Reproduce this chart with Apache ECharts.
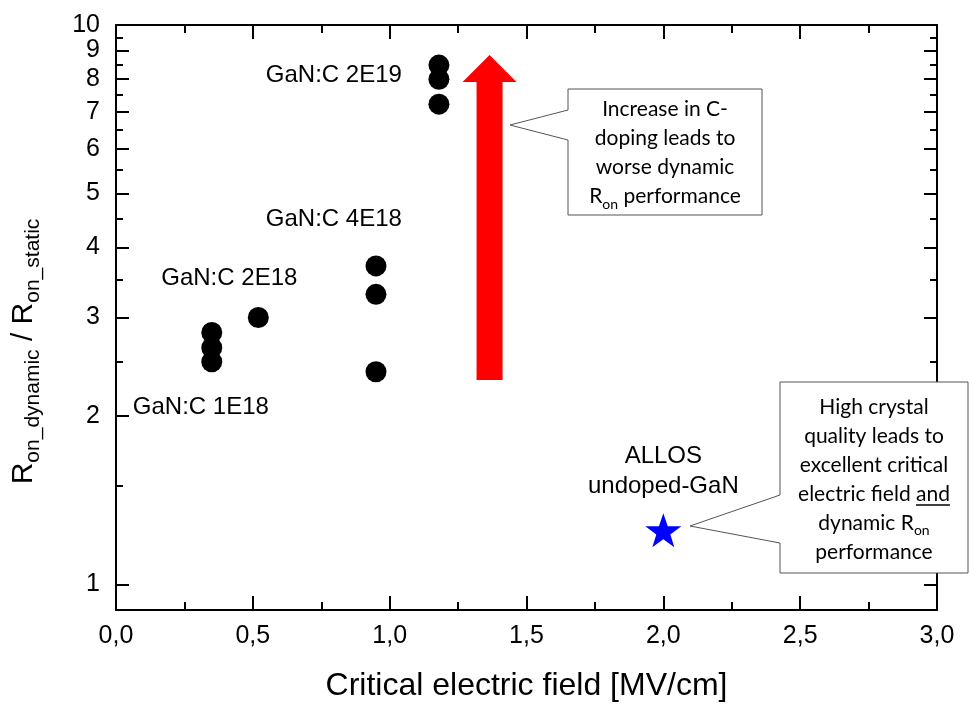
<!DOCTYPE html>
<html><head><meta charset="utf-8">
<script src="https://cdn.jsdelivr.net/npm/echarts@6/dist/echarts.min.js"></script>
<style>html,body{margin:0;padding:0;background:#fff}#c{width:969px;height:707px}</style>
</head><body><div id="c"></div>
<script>
// ---- data ----
const xMin = 0, xMax = 3.0, xStep = 0.5;
const yMajorTicks = [1, 2, 3, 4, 5, 6, 7, 8, 9, 10];
const yMinorTicks = [1.5, 2.5, 3.5, 4.5, 5.5, 6.5, 7.5, 8.5, 9.5];
const ganField = [0.35, 0.35, 0.35, 0.52, 0.95, 0.95, 0.95, 1.18, 1.18, 1.18];
const ganRatio = [2.82, 2.65, 2.50, 3.00, 3.71, 3.30, 2.40, 8.48, 8.00, 7.22];
const allosField = [2.0];
const allosRatio = [1.25];
const labelTexts = ['GaN:C 2E19', 'GaN:C 4E18', 'GaN:C 2E18', 'GaN:C 1E18', 'ALLOS\nundoped-GaN'];
const labelX = [0.796, 0.796, 0.414, 0.310, 2.0];
const labelY = [8.14, 4.49, 3.53, 2.07, 1.592];
const arrowX = 1.365, arrowFrom = 2.32, arrowTo = 8.84;
const callout1 = ['{t|Increase in C-}', '{t|doping leads to}', '{t|worse dynamic}', '{t|R}{s|on}{t| performance}'];
const callout2 = ['{t|High crystal}', '{t|quality leads to}', '{t|excellent critical}', '{t|electric field and}', '{t|dynamic R}{s|on}', '{t|performance}'];

const ARIAL = "'Liberation Sans', Arial, sans-serif";
const CAL = "Lato, 'Open Sans', sans-serif";

const chart = echarts.init(document.getElementById('c'), null, {renderer: 'canvas'});

function xAx(pos, showLabel, name) {
  return {
    type: 'value', position: pos, min: xMin, max: xMax, interval: xStep,
    axisLine: {show: true, onZero: false, lineStyle: {color: '#000', width: 2}},
    axisTick: {show: true, inside: true, length: 14, lineStyle: {color: '#000', width: 2}},
    minorTick: {show: true, splitNumber: 2, length: 8, lineStyle: {color: '#000', width: 2}},
    axisLabel: {show: showLabel, margin: 14, color: '#000', fontSize: 25, fontFamily: ARIAL,
      formatter: v => v.toFixed(1).replace('.', ',')},
    splitLine: {show: false},
    name: name || '', nameLocation: 'middle', nameGap: 60,
    nameTextStyle: {fontSize: 32, color: '#000', fontFamily: ARIAL}
  };
}
function yAx(pos, ticks, len, showLine, showLabel, name) {
  const a = {
    type: 'log', logBase: 10, min: 0.9, max: 10, position: pos,
    axisLine: {show: showLine, onZero: false, lineStyle: {color: '#000', width: 2}},
    axisTick: {show: true, inside: true, length: len, customValues: ticks, lineStyle: {color: '#000', width: 2}},
    axisLabel: {show: showLabel, margin: 16, color: '#000', fontSize: 25, fontFamily: ARIAL,
      formatter: v => String(Math.round(v))},
    splitLine: {show: false}
  };
  if (showLabel) a.axisLabel.customValues = ticks;
  if (name) {
    a.name = name; a.nameLocation = 'middle'; a.nameGap = 72;
    a.nameTextStyle = {color: '#000', padding: [0, 68, 0, 0], rich: {
      r: {fontSize: 30, fontFamily: ARIAL, color: '#000', lineHeight: 40},
      s: {fontSize: 21, fontFamily: ARIAL, color: '#000', lineHeight: 8, verticalAlign: 'bottom'}
    }};
  }
  return a;
}

const labelData = labelTexts.map((t, i) => ({name: t, value: [labelX[i], labelY[i]]}));

chart.setOption({
  animation: false,
  backgroundColor: '#fff',
  grid: {left: 116, right: 32, top: 25, bottom: 97, containLabel: false},
  xAxis: [xAx('bottom', true, 'Critical electric field [MV/cm]'), xAx('top', false)],
  yAxis: [
    yAx('left', yMajorTicks, 13, true, true, '{r|R}{s|on_dynamic}{r| / R}{s|on_static}'),
    yAx('left', yMinorTicks, 7, false, false),
    yAx('right', yMajorTicks, 13, true, false),
    yAx('right', yMinorTicks, 7, false, false)
  ],
  series: [
    {type: 'scatter', name: 'GaN:C', xAxisIndex: 0, yAxisIndex: 0, symbol: 'circle', symbolSize: 21,
      itemStyle: {color: '#000', opacity: 1}, data: ganField.map((x, i) => [x, ganRatio[i]]), z: 5},
    {type: 'scatter', name: 'ALLOS', xAxisIndex: 0, yAxisIndex: 0,
      symbol: 'path://M50,0 L61.8,35.1 L98.1,35.1 L68.8,56.8 L79.4,91 L50,70 L20.6,91 L31.2,56.8 L1.9,35.1 L38.2,35.1 Z',
      symbolSize: [36, 34], itemStyle: {color: '#0000ff', opacity: 1}, data: allosField.map((x, i) => [x, allosRatio[i]]), z: 5},
    {type: 'scatter', name: 'labels', xAxisIndex: 0, yAxisIndex: 0, symbolSize: 0, silent: true,
      itemStyle: {opacity: 1},
      label: {show: true, position: 'inside', formatter: p => p.name, color: '#000', fontSize: 24,
        fontFamily: ARIAL, lineHeight: 30, align: 'center', opacity: 1},
      data: labelData, z: 6}
  ]
});

function drawAnnotations() {
  const p0 = chart.convertToPixel({xAxisIndex: 0, yAxisIndex: 0}, [arrowX, arrowFrom]);
  const p1 = chart.convertToPixel({xAxisIndex: 0, yAxisIndex: 0}, [arrowX, arrowTo]);
  const cx = p0[0], headLen = 27, headHalf = 27, shaftHalf = 13;
  const arrowPts = [
    [cx - shaftHalf, p0[1]], [cx - shaftHalf, p1[1] + headLen], [cx - headHalf, p1[1] + headLen],
    [cx, p1[1]], [cx + headHalf, p1[1] + headLen], [cx + shaftHalf, p1[1] + headLen], [cx + shaftHalf, p0[1]]
  ];
  function calloutPts(l, t, r, b, by0, by1, tx, ty) {
    return [[l, t], [r, t], [r, b], [l, b], [l, by1], [tx, ty], [l, by0]];
  }
  const richBox = {
    t: {fontSize: 21, fontFamily: CAL, color: '#000', lineHeight: 29},
    s: {fontSize: 14, fontFamily: CAL, color: '#000', lineHeight: 14, verticalAlign: 'bottom'}
  };
  // underline for "and"
  const cvs = document.createElement('canvas').getContext('2d');
  cvs.font = '21px ' + CAL;
  const wFull = cvs.measureText('electric field and').width;
  const wPre = cvs.measureText('electric field ').width;
  const c2x = 874, c2y = 479.5;
  const lineY = c2y - 2.5 * 29 + 3 * 29 + 11;
  const ux0 = c2x - wFull / 2 + wPre, ux1 = c2x + wFull / 2;

  chart.setOption({graphic: [
    {type: 'polygon', z: 10, shape: {points: arrowPts}, style: {fill: '#ff0000'}, silent: true},
    {type: 'polygon', z: 20, shape: {points: calloutPts(568, 89, 762, 215, 110, 140, 510, 125)},
      style: {fill: '#fff', stroke: '#555', lineWidth: 1}, silent: true},
    {type: 'text', z: 21, x: 665, y: 153, silent: true,
      style: {text: callout1.join('\n'), rich: richBox, align: 'center', verticalAlign: 'middle'}},
    {type: 'polygon', z: 20, shape: {points: calloutPts(780, 382, 968, 573, 495, 543, 690, 526)},
      style: {fill: '#fff', stroke: '#555', lineWidth: 1}, silent: true},
    {type: 'text', z: 21, x: c2x, y: c2y, silent: true,
      style: {text: callout2.join('\n'), rich: richBox, align: 'center', verticalAlign: 'middle'}},
    {type: 'line', z: 21, shape: {x1: ux0, y1: lineY, x2: ux1, y2: lineY}, style: {stroke: '#000', lineWidth: 1.3}, silent: true}
  ]});
}
drawAnnotations();
</script>
</body></html>
